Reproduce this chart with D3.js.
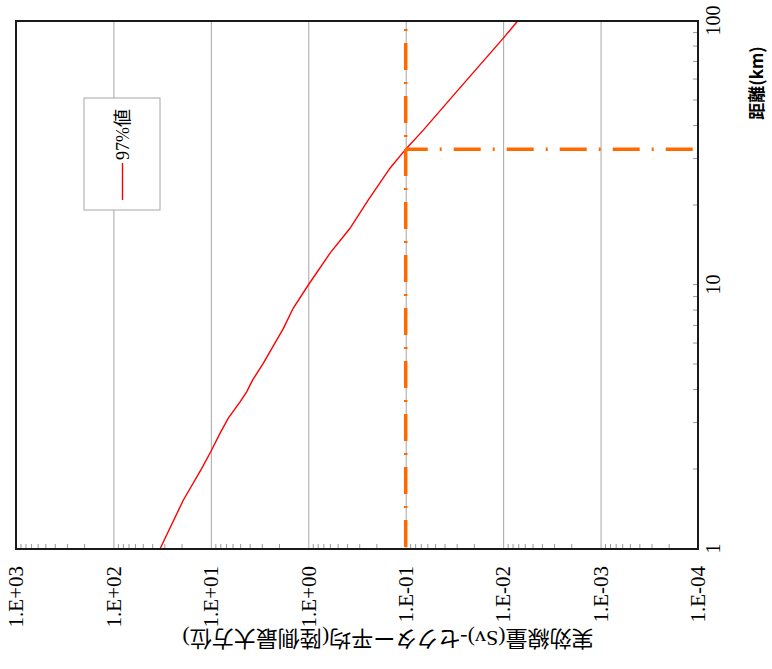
<!DOCTYPE html>
<html>
<head>
<meta charset="utf-8">
<script src="https://cdn.jsdelivr.net/npm/d3@7"></script>
<style>
  html, body { margin: 0; padding: 0; background: #fff; }
  svg { display: block; }
</style>
</head>
<body>
<svg id="chart" width="772" height="669"></svg>
<script>
// ---- data ----
const distances = [1.0, 1.53, 2.02, 2.34, 2.74, 3.13, 3.61, 3.94, 4.37, 5.05, 6.85, 8.16, 10.0, 13.2, 16.4, 21.0, 27.7, 32.7, 38.6, 54.0, 87.1, 100];
const dose97 = [33.3, 19.2, 12.4, 10.0, 8.06, 6.62, 5.02, 4.29, 3.72, 2.90, 1.80, 1.43, 1.0, 0.598, 0.373, 0.242, 0.145, 0.1, 0.066, 0.030, 0.0097, 0.0071];
const seriesName = "97%値";
const thresholdDose = 0.1;
const thresholdDistance = 32.7;
const doseTicks = [1e3, 1e2, 1e1, 1e0, 1e-1, 1e-2, 1e-3, 1e-4];
const doseTickLabels = ["1.E+03", "1.E+02", "1.E+01", "1.E+00", "1.E-01", "1.E-02", "1.E-03", "1.E-04"];
const distTicks = [1, 10, 100];
const distTickLabels = ["1", "10", "100"];
const doseTitle = "実効線量(Sv)-セクター平均(陸側最大方位)";
const distTitle = "距離(km)";

// ---- layout (chart drawn in its original orientation, then turned -90deg) ----
const W = 772, H = 669;
const svg = d3.select("#chart");
const g = svg.append("g").attr("transform", `translate(0,${H}) rotate(-90)`);

const x = d3.scaleLog().domain([1, 100]).range([120, 648]);
const y = d3.scaleLog().domain([1e-4, 1e3]).range([698, 16]);

const serif = "'Liberation Serif', 'Times New Roman', serif";
const cjk = "'Liberation Serif', 'Noto Sans CJK JP', serif";

// minor tick values
const doseMinor = [];
for (let e = -4; e < 3; e++) for (let k = 2; k <= 9; k++) doseMinor.push(k * Math.pow(10, e));
const distMinor = [];
for (let e = 0; e < 2; e++) for (let k = 2; k <= 9; k++) distMinor.push(k * Math.pow(10, e));

// gridlines at dose decades
g.append("g")
  .attr("transform", `translate(${x.range()[0]},0)`)
  .call(d3.axisLeft(y).tickValues(doseTicks).tickSize(-(x.range()[1] - x.range()[0])).tickFormat(""))
  .call(s => s.select(".domain").remove())
  .call(s => s.selectAll("line").attr("stroke", "#a6a6a6").attr("stroke-width", 1));

// minor ticks (inside)
g.append("g")
  .attr("transform", `translate(${x.range()[0]},0)`)
  .call(d3.axisLeft(y).tickValues(doseMinor).tickSize(-5).tickFormat(""))
  .call(s => s.select(".domain").remove())
  .call(s => s.selectAll("line").attr("stroke", "#999").attr("stroke-width", 1));
g.append("g")
  .attr("transform", `translate(0,${y.range()[0]})`)
  .call(d3.axisBottom(x).tickValues(distMinor.concat(distTicks)).tickSize(-5).tickFormat(""))
  .call(s => s.select(".domain").remove())
  .call(s => s.selectAll("line").attr("stroke", "#999").attr("stroke-width", 1));

// dose tick labels
g.append("g")
  .attr("transform", `translate(${x.range()[0]},0)`)
  .call(d3.axisLeft(y).tickValues(doseTicks).tickSize(0).tickPadding(17)
    .tickFormat(d => doseTickLabels[doseTicks.indexOf(d)]))
  .call(s => s.select(".domain").remove())
  .call(s => s.selectAll("text").attr("font-family", serif).attr("font-size", 21).attr("fill", "#000"));

// distance tick labels
g.append("g")
  .attr("transform", `translate(0,${y.range()[0]})`)
  .call(d3.axisBottom(x).tickValues(distTicks).tickSize(0).tickPadding(8)
    .tickFormat(d => distTickLabels[distTicks.indexOf(d)]))
  .call(s => s.select(".domain").remove())
  .call(s => s.selectAll("text").attr("font-family", serif).attr("font-size", 20).attr("fill", "#000"));

// red series
const line = d3.line().x((d, i) => x(distances[i])).y((d, i) => y(dose97[i]));
g.append("path")
  .datum(dose97)
  .attr("d", line)
  .attr("fill", "none")
  .attr("stroke", "#ff0000")
  .attr("stroke-width", 1.4);

// orange threshold lines
const orange = "#ff6a00";
g.append("path")
  .attr("d", d3.line()([[x(1), y(thresholdDose)], [x(100), y(thresholdDose)]]))
  .attr("stroke", orange).attr("stroke-width", 3.5).attr("fill", "none")
  .attr("stroke-dasharray", "27,12,2,12").attr("stroke-dashoffset", 51);
g.append("path")
  .attr("d", d3.line()([[x(thresholdDistance), y(thresholdDose)], [x(thresholdDistance), y(1e-4)]]))
  .attr("stroke", orange).attr("stroke-width", 3.5).attr("fill", "none")
  .attr("stroke-dasharray", "27,12,2,12").attr("stroke-dashoffset", 5);

// plot border
g.append("rect")
  .attr("x", x.range()[0]).attr("y", y.range()[1])
  .attr("width", x.range()[1] - x.range()[0])
  .attr("height", y.range()[0] - y.range()[1])
  .attr("fill", "none").attr("stroke", "#1a1a1a").attr("stroke-width", 2);

// legend
const lg = g.append("g");
lg.append("rect").attr("x", 459).attr("y", 84).attr("width", 112).attr("height", 76)
  .attr("fill", "#fff").attr("stroke", "#a6a6a6").attr("stroke-width", 1);
lg.append("line").attr("x1", 469).attr("x2", 506).attr("y1", 122.5).attr("y2", 122.5)
  .attr("stroke", "#ff0000").attr("stroke-width", 1.4);
lg.append("text").attr("x", 509).attr("y", 122.5).attr("dy", "0.35em")
  .attr("font-family", cjk).attr("font-size", 18).text(seriesName);

// axis titles
g.append("text")
  .attr("transform", `translate(30,388) rotate(-90)`)
  .attr("text-anchor", "middle").attr("dy", "0.35em")
  .attr("font-family", cjk).attr("font-size", 22).text(doseTitle);
g.append("text")
  .attr("x", 586).attr("y", 757).attr("dy", "0.35em")
  .attr("text-anchor", "middle")
  .attr("font-family", "'Noto Sans CJK JP', sans-serif").attr("font-weight", "bold")
  .attr("font-size", 17).text(distTitle);
</script>
</body>
</html>
